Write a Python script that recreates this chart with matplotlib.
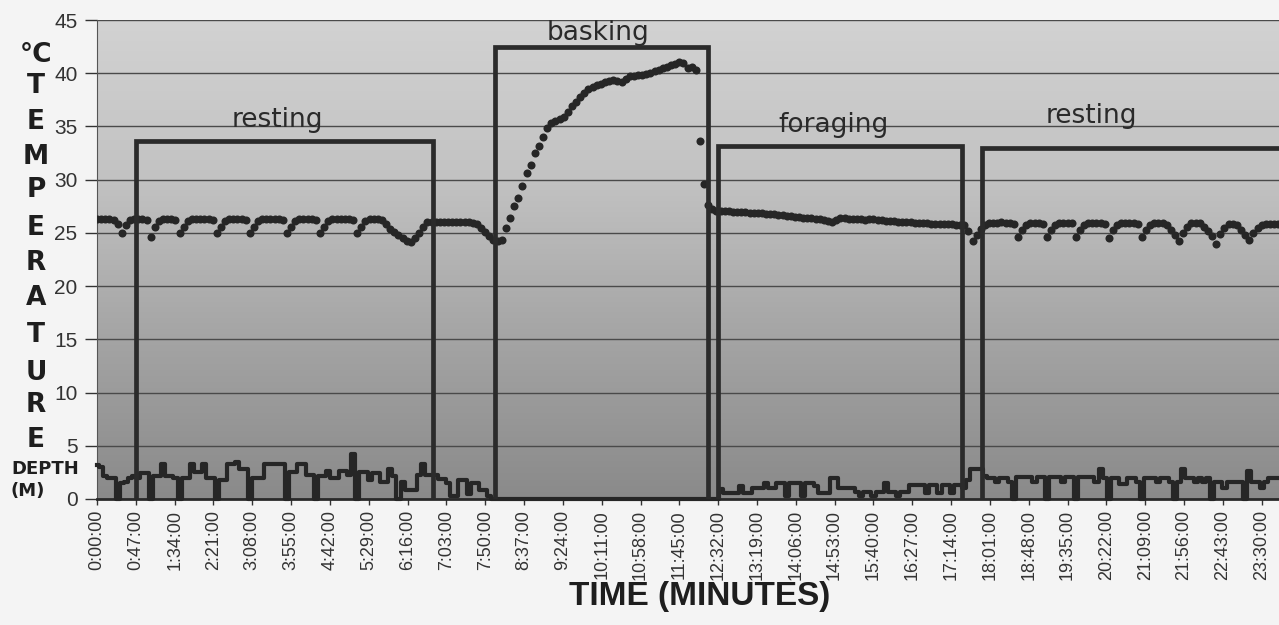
import numpy as np
import matplotlib.pyplot as plt
from matplotlib.colors import LinearSegmentedColormap

# logger interval (minutes between readings)
step = 5

# body temperature (deg C), one value per reading
temp_rest1 = [26.3, 26.3, 26.3, 26.3,
              26.2, 25.8, 25.0, 25.7, 26.2, 26.3, 26.3, 26.3, 26.2, 24.6, 25.6, 26.1,
              26.3, 26.3, 26.3, 26.2, 25.0, 25.6, 26.1, 26.3, 26.3, 26.3, 26.3, 26.3,
              26.2, 25.0, 25.6, 26.1, 26.3, 26.3, 26.3, 26.3, 26.2, 25.0, 25.6, 26.1,
              26.3, 26.3, 26.3, 26.3, 26.3, 26.2, 25.0, 25.6, 26.1, 26.3, 26.3, 26.3,
              26.3, 26.2, 25.0, 25.6, 26.1, 26.3, 26.3, 26.3, 26.3, 26.3, 26.2, 25.0,
              25.6, 26.1, 26.3, 26.3, 26.3, 26.2, 25.8, 25.4, 25.1, 24.8, 24.5, 24.2,
              24.1, 24.5, 25.0, 25.6, 26.0, 26.0, 26.0, 26.0, 26.0, 26.0, 26.0, 26.0,
              26.0, 26.0, 26.0, 25.9, 25.8, 25.5, 25.1, 24.7, 24.3, 24.2]
temp_bask = [24.3, 25.5, 26.4, 27.5, 28.3, 29.4, 30.6, 31.4, 32.5, 33.2,
             34.0, 34.9, 35.3, 35.5, 35.7, 35.9, 36.4, 36.9, 37.3, 37.8,
             38.1, 38.5, 38.7, 38.9, 39.0, 39.2, 39.3, 39.4, 39.3, 39.2,
             39.5, 39.7, 39.7, 39.8, 39.8, 39.9, 40.0, 40.2, 40.3, 40.5,
             40.6, 40.8, 40.9, 41.1, 41.0, 40.5, 40.6, 40.3, 33.6, 29.6,
             27.6]
temp_forage = [27.2, 27.1, 27.1, 27.1, 27.1, 27.0, 27.0, 27.0, 27.0, 26.9,
               26.9, 26.9, 26.9, 26.8, 26.8, 26.8, 26.7, 26.7, 26.6, 26.6,
               26.5, 26.5, 26.4, 26.4, 26.4, 26.3, 26.3, 26.2, 26.1, 26.0,
               26.2, 26.4, 26.4, 26.3, 26.3, 26.3, 26.3, 26.2, 26.3, 26.3,
               26.2, 26.2, 26.1, 26.1, 26.1, 26.0, 26.0, 26.0, 26.0, 25.9,
               25.9, 25.9, 25.9, 25.8, 25.8, 25.8, 25.8, 25.8, 25.8, 25.7,
               25.7, 25.7]
temp_rest2 = [25.2, 24.2, 24.8, 25.4, 25.7, 25.9, 25.9, 25.9, 26.0, 25.9,
              25.9, 25.8, 24.6, 25.3, 25.7, 25.9, 25.9, 25.9, 25.8, 24.6,
              25.3, 25.7, 25.9, 25.9, 25.9, 25.9, 24.6, 25.3, 25.7, 25.9,
              25.9, 25.9, 25.9, 25.8, 24.5, 25.3, 25.7, 25.9, 25.9, 25.9,
              25.9, 25.8, 24.6, 25.3, 25.7, 25.9, 25.9, 25.9, 25.7, 25.3,
              24.8, 24.2, 25.0, 25.6, 25.9, 25.9, 25.9, 25.6, 25.2, 24.7,
              24.0, 24.9, 25.5, 25.8, 25.8, 25.7, 25.3, 24.8, 24.3, 25.0,
              25.5, 25.7, 25.8, 25.8, 25.8, 25.8]

# dive depth (m), same readings
depth_rest1 = [3.2, 3.0, 2.2, 2.0, 2.0, 0.0, 1.5, 1.6, 2.0, 2.2,
               2.0, 2.4, 2.4, 0.0, 2.2, 2.2, 3.3, 2.2, 2.2, 2.0,
               0.0, 2.0, 2.0, 3.3, 2.5, 2.5, 3.3, 2.0, 2.0, 0.0,
               1.8, 1.8, 3.3, 3.3, 3.5, 2.8, 2.8, 0.0, 2.0, 2.0,
               2.0, 3.3, 3.3, 3.3, 3.3, 3.3, 0.0, 2.5, 2.5, 3.3,
               3.3, 2.3, 2.3, 0.0, 2.2, 2.2, 2.6, 2.0, 2.0, 2.6,
               2.6, 2.3, 4.2, 0.0, 2.5, 2.5, 1.8, 2.4, 2.4, 1.6,
               1.6, 2.8, 2.2, 0.0, 1.6, 0.8, 0.8, 0.8, 2.3, 3.3,
               2.3, 2.3, 2.3, 1.9, 1.9, 1.5, 0.3, 0.3, 1.8, 1.8,
               0.5, 1.5, 1.5, 0.8, 0.8, 0.3, 0.0, 0.0]
depth_bask = [0.0, 0.0, 0.0, 0.0, 0.0, 0.0, 0.0, 0.0, 0.0, 0.0,
              0.0, 0.0, 0.0, 0.0, 0.0, 0.0, 0.0, 0.0, 0.0, 0.0,
              0.0, 0.0, 0.0, 0.0, 0.0, 0.0, 0.0, 0.0, 0.0, 0.0,
              0.0, 0.0, 0.0, 0.0, 0.0, 0.0, 0.0, 0.0, 0.0, 0.0,
              0.0, 0.0, 0.0, 0.0, 0.0, 0.0, 0.0, 0.0, 0.0, 0.0,
              0.0]
depth_forage = [0.0, 0.0, 0.9, 0.6, 0.6, 0.6, 0.6, 1.2, 0.6, 0.6,
                1.0, 1.0, 1.0, 1.5, 1.0, 1.0, 1.5, 1.5, 0.3, 1.5,
                1.5, 1.5, 0.3, 1.5, 1.5, 1.2, 0.6, 0.6, 0.6, 2.0,
                2.0, 1.0, 1.0, 1.0, 1.0, 0.7, 0.3, 0.7, 0.7, 0.3,
                0.7, 0.7, 1.5, 0.7, 0.7, 0.3, 0.7, 0.7, 1.3, 1.3,
                1.3, 1.3, 0.6, 1.3, 1.3, 0.6, 1.3, 1.3, 0.6, 1.3,
                1.3, 1.0]
depth_rest2 = [1.8, 2.8, 2.8, 2.8, 2.2, 2.0, 2.0, 1.6, 2.0, 2.0,
               1.6, 0.0, 2.1, 2.1, 2.1, 2.1, 1.6, 2.1, 2.1, 0.0,
               2.1, 2.1, 2.1, 1.6, 2.1, 2.1, 0.0, 2.1, 2.1, 2.1,
               2.1, 1.6, 2.8, 2.0, 0.0, 2.0, 2.0, 1.4, 1.4, 2.0,
               2.0, 1.6, 0.0, 2.0, 2.0, 2.0, 1.6, 2.0, 2.0, 1.6,
               0.0, 1.6, 2.8, 2.0, 2.0, 1.6, 2.0, 1.6, 2.0, 0.0,
               1.6, 1.6, 1.0, 1.6, 1.6, 1.6, 1.6, 0.0, 2.6, 1.6,
               1.6, 1.0, 1.6, 2.0, 2.0, 2.0]

# behaviour boxes (minutes) and their labels
box_names = ['resting', 'basking', 'foraging', 'resting']
box_start = [47, 482, 752, 1071]
box_end = [407, 740, 1047, 1470]
box_top = [33.6, 42.5, 33.2, 33.0]
label_x = [218, 606, 892, 1204]
label_y = [35.6, 43.8, 35.1, 36.0]

temp = np.array(temp_rest1 + temp_bask + temp_forage + temp_rest2)
depth = np.array(depth_rest1 + depth_bask + depth_forage + depth_rest2)
t = np.arange(len(temp)) * step

tick_min = np.arange(0, 1411, 47)
tick_lab = ['{}:{:02d}:00'.format(m // 60, m % 60) for m in tick_min]

plt.rcParams['font.family'] = ['Liberation Sans', 'DejaVu Sans']

W, H = 1279, 625
fig = plt.figure(figsize=(W / 100, H / 100), dpi=100, facecolor='#f4f4f4')
ax = fig.add_axes([97 / W, 1 - 499 / H, 1 - 97 / W, (499 - 20) / H])

# gray gradient behind the plot
cm = LinearSegmentedColormap.from_list('bg', ['#8a8a8a', '#a4a4a4', '#c2c2c2', '#d2d2d2'])
grad = np.linspace(0, 1, 256).reshape(-1, 1)
ax.imshow(grad, extent=[0, 1431, 0, 45], origin='lower', aspect='auto', cmap=cm, zorder=0)

ax.set_xlim(0, 1431)
ax.set_ylim(0, 45)

ax.set_yticks(range(0, 46, 5))
ax.yaxis.grid(True, color='#4a4a4a', lw=1)
ax.set_axisbelow(True)
ax.tick_params(axis='y', length=9, width=1, labelsize=15, colors='#333333', pad=5)
ax.set_xticks(tick_min)
ax.set_xticklabels(tick_lab, rotation=90)
ax.tick_params(axis='x', length=4, width=1, labelsize=13, colors='#333333', pad=4)
for s in ['top', 'right']:
    ax.spines[s].set_visible(False)
ax.spines['left'].set_color('#555555')
ax.spines['bottom'].set_color('#2a2a2a')
ax.spines['bottom'].set_linewidth(2)

ax.step(t, depth, where='mid', color='#262626', lw=3, zorder=3, clip_on=False)
ax.plot(t, temp, 'o', ms=5.8, color='#262626', mec='none', zorder=4)

for name, s, e, top, lx, ly in zip(box_names, box_start, box_end, box_top, label_x, label_y):
    ax.plot([s, s, e, e], [0, top, top, 0], color='#2b2b2b', lw=3.4,
            solid_joinstyle='miter', zorder=5)
    ax.text(lx, ly, name, ha='center', va='center', fontsize=19,
            family='DejaVu Sans', color='#2a2a2a', zorder=6)

# stacked axis title
letters = ['°C', 'T', 'E', 'M', 'P', 'E', 'R', 'A', 'T', 'U', 'R', 'E']
letter_y = [55, 86, 122, 157, 190, 228, 263, 298, 335, 373, 405, 440]
for ch, y in zip(letters, letter_y):
    fig.text(36 / W, 1 - y / H, ch, ha='center', va='center', fontsize=19,
             fontweight='bold', family='DejaVu Sans', color='#1e1e1e')
fig.text(45 / W, 1 - 469 / H, 'DEPTH', ha='center', va='center', fontsize=13,
         fontweight='bold', family='DejaVu Sans', color='#1e1e1e')
fig.text(28 / W, 1 - 491 / H, '(M)', ha='center', va='center', fontsize=13,
         fontweight='bold', family='DejaVu Sans', color='#1e1e1e')

fig.text(700 / W, 1 - 597 / H, 'TIME (MINUTES)', ha='center', va='center',
         fontsize=24, fontweight='bold', color='#1e1e1e')

fig.savefig('out.png', dpi=100, facecolor=fig.get_facecolor())
